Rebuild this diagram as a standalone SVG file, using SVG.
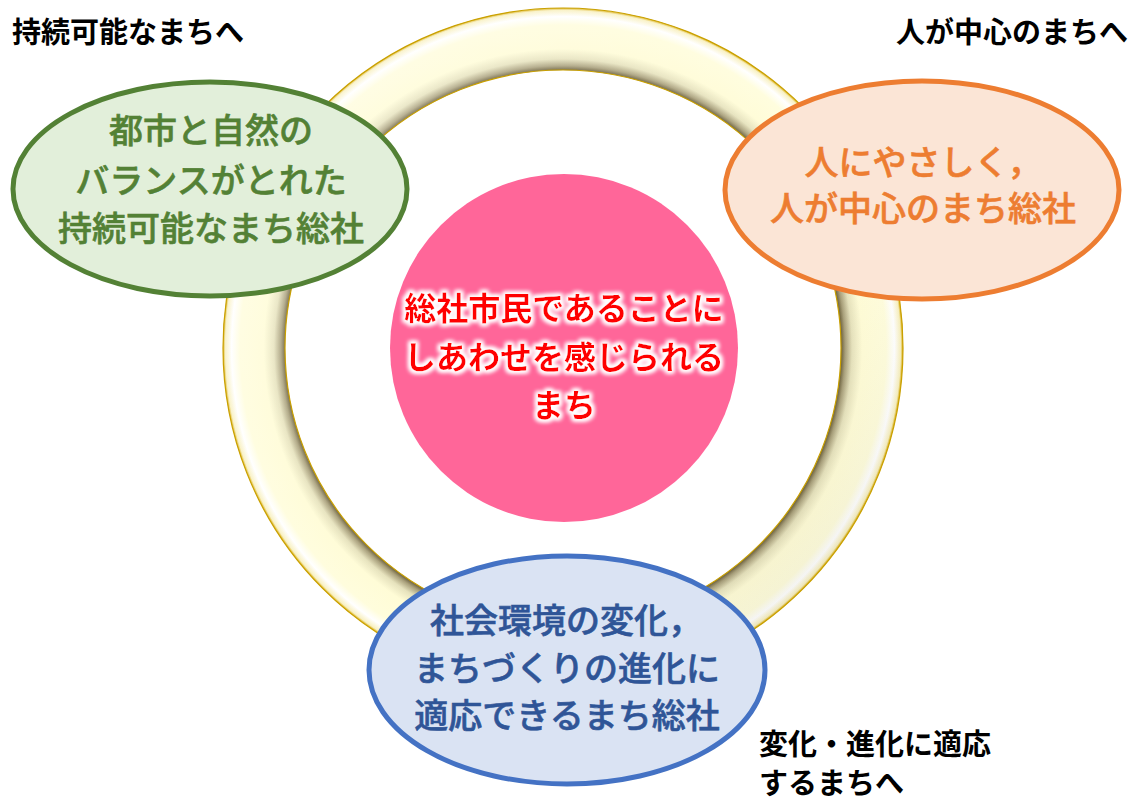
<svg xmlns="http://www.w3.org/2000/svg" width="1137" height="803" viewBox="0 0 1137 803">
<defs>
<radialGradient id="ringGrad" gradientUnits="userSpaceOnUse" cx="563" cy="348" r="340">
<stop offset="0.815" stop-color="#5a4e2a"/>
<stop offset="0.83" stop-color="#a89f7a"/>
<stop offset="0.85" stop-color="#e6e2bc"/>
<stop offset="0.88" stop-color="#fffcd6"/>
<stop offset="0.95" stop-color="#fffddc"/>
<stop offset="0.975" stop-color="#ffffff"/>
<stop offset="0.993" stop-color="#f8f0c0"/>
<stop offset="1" stop-color="#d8a800"/>
</radialGradient>
<linearGradient id="ringShade" gradientUnits="userSpaceOnUse" x1="300" y1="80" x2="830" y2="620">
<stop offset="0" stop-color="#ffffff" stop-opacity="0.25"/>
<stop offset="0.6" stop-color="#ffffff" stop-opacity="0"/>
<stop offset="1" stop-color="#000000" stop-opacity="0.06"/>
</linearGradient>
<filter id="glow" x="-10%" y="-30%" width="120%" height="160%">
<feMorphology in="SourceAlpha" operator="dilate" radius="1.5" result="d"/>
<feGaussianBlur in="d" stdDeviation="2" result="b"/>
<feFlood flood-color="#ffffff"/>
<feComposite in2="b" operator="in" result="g"/>
<feMerge><feMergeNode in="g"/><feMergeNode in="g"/><feMergeNode in="SourceGraphic"/></feMerge>
</filter>
<style>
.jp{font-family:"Noto Sans CJK JP","Noto Sans CJK SC",sans-serif;}
.corner{font-size:29px;font-weight:bold;fill:#000000;}
.big{font-size:34px;text-anchor:middle;font-weight:500;stroke-width:0.6;}
.ctr{font-size:32px;text-anchor:middle;font-weight:bold;fill:#ff0000;}
.edge{fill:none;stroke:#c9a000;stroke-width:1.2;}
</style>
</defs>
<rect width="1137" height="803" fill="#ffffff"/>

<g id="ring">
<path d="M563,8 A340,340 0 1 1 562.99,8 Z M563,70 A278,278 0 1 0 563.01,70 Z" fill="url(#ringGrad)" fill-rule="evenodd"/>
<path d="M563,8 A340,340 0 1 1 562.99,8 Z M563,70 A278,278 0 1 0 563.01,70 Z" fill="url(#ringShade)" fill-rule="evenodd"/>
<circle class="edge" cx="563" cy="348" r="340"/>
<circle class="edge" cx="563" cy="348" r="278"/>
</g>

<g id="center">
<circle cx="564" cy="348" r="174" fill="#ff6699"/>
<g class="jp ctr" filter="url(#glow)">
<text x="564" y="320">総社市民であることに</text>
<text x="564" y="369">しあわせを感じられる</text>
<text x="564" y="417">まち</text>
</g>
</g>

<g id="green">
<ellipse cx="210" cy="189" rx="197" ry="107" fill="#e2efda" stroke="#538135" stroke-width="5"/>
<g class="jp big" fill="#538135" stroke="#538135">
<text x="211" y="143">都市と自然の</text>
<text x="211" y="193">バランスがとれた</text>
<text x="211" y="241">持続可能なまち総社</text>
</g>
</g>

<g id="orange">
<ellipse cx="922" cy="190" rx="197" ry="109" fill="#fbe5d6" stroke="#ed7d31" stroke-width="5"/>
<g class="jp big" fill="#ed7d31" stroke="#ed7d31">
<text x="923" y="175">人にやさしく，</text>
<text x="923" y="221">人が中心のまち総社</text>
</g>
</g>

<g id="blue">
<ellipse cx="567" cy="670" rx="198" ry="114" fill="#dae3f3" stroke="#4472c4" stroke-width="5"/>
<g class="jp big" fill="#2f5597" stroke="#2f5597">
<text x="566" y="633">社会環境の変化，</text>
<text x="567" y="681">まちづくりの進化に</text>
<text x="567" y="728">適応できるまち総社</text>
</g>
</g>

<g id="labels" class="jp corner">
<text x="12" y="43">持続可能なまちへ</text>
<text x="896" y="43">人が中心のまちへ</text>
<text x="759" y="755">変化・進化に適応</text>
<text x="759" y="794">するまちへ</text>
</g>
</svg>
